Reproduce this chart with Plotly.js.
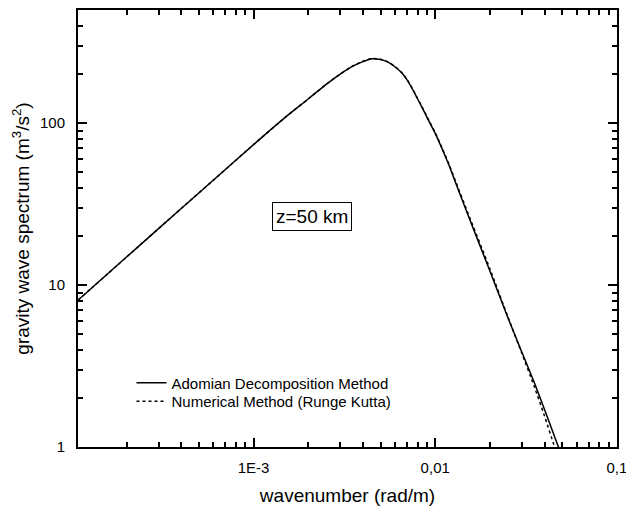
<!DOCTYPE html>
<html>
<head>
<meta charset="utf-8">
<script src="https://cdn.plot.ly/plotly-3.0.1.min.js"></script>
<style>html,body{margin:0;padding:0;background:#fff;}#chart{width:626px;height:514px;}</style>
</head>
<body>
<div id="chart"></div>
<script>
// wavenumber (rad/m) and spectrum (m^3/s^2)
const kAdomian = [1.08e-4, 2e-4, 4e-4, 7e-4, 1e-3, 1.5e-3, 2e-3, 2.5e-3, 3e-3, 3.5e-3, 4e-3, 4.5e-3, 5e-3, 5.5e-3, 6e-3, 6.5e-3, 7e-3, 7.5e-3, 8e-3, 8.5e-3, 9e-3, 0.01, 0.011, 0.012, 0.013, 0.015, 0.02, 0.025, 0.03, 0.035, 0.04, 0.045, 0.048, 0.05];
const eAdomian = [8.06, 14.9, 29.7, 51.7, 73.7, 109, 141, 173, 201, 224, 240, 250, 247, 238, 223, 206, 185, 162, 141, 124, 109, 86.5, 68, 53.8, 42.4, 27.9, 12.2, 6.38, 3.85, 2.52, 1.70, 1.19, 0.98, 0.88];
const kRK = [1.08e-4, 2e-4, 4e-4, 7e-4, 1e-3, 1.5e-3, 2e-3, 2.5e-3, 3e-3, 3.5e-3, 4e-3, 4.5e-3, 5e-3, 5.5e-3, 6e-3, 6.5e-3, 7e-3, 7.5e-3, 8e-3, 8.5e-3, 9e-3, 0.01, 0.011, 0.012, 0.013, 0.015, 0.02, 0.025, 0.03, 0.035, 0.04, 0.045, 0.05];
const eRK = [8.06, 14.9, 29.7, 51.7, 73.7, 109, 141, 173, 201, 225, 241, 251, 248, 239, 224, 207, 186, 163, 142, 125, 110, 87.3, 68.8, 54.6, 43.2, 28.6, 12.6, 6.45, 3.78, 2.38, 1.55, 1.03, 0.74];
const seriesNames = ["Adomian Decomposition Method", "Numerical Method (Runge Kutta)"];
const xTickVals = [0.001, 0.01, 0.1];
const xTickText = ["1E-3", "0,01", "0,1"];
const xMinorVals = [2e-4,3e-4,4e-4,5e-4,6e-4,7e-4,8e-4,9e-4,2e-3,3e-3,4e-3,5e-3,6e-3,7e-3,8e-3,9e-3,0.02,0.03,0.04,0.05,0.06,0.07,0.08,0.09];
const yTickVals = [1, 10, 100];
const yTickText = ["1", "10", "100"];
const yMinorVals = [2,3,4,5,6,7,8,9,20,30,40,50,60,70,80,90,200,300,400,500];

const FONT = "Liberation Sans, Arial, sans-serif";
const XR = [-3.966, -0.9995];
const YR = [0, Math.log10(500)];

const lineStyle = {color: "#000", width: 1.5, shape: "spline", smoothing: 0.6};
const traces = [
  {x: kAdomian, y: eAdomian, type: "scatter", mode: "lines", name: seriesNames[0], legend: "legend",
   line: Object.assign({}, lineStyle, {dash: "solid"})},
  {x: kRK, y: eRK, type: "scatter", mode: "lines", name: seriesNames[1], legend: "legend2",
   line: Object.assign({}, lineStyle, {dash: "dot"})}
];
// invisible copies so the overlaid tick-only axes (top/right, minor) get drawn
[["x2","y2"],["x3","y3"],["x4","y4"]].forEach(function(p){
  traces.push({x: kAdomian, y: eAdomian, type: "scatter", mode: "lines", xaxis: p[0], yaxis: p[1],
    showlegend: false, hoverinfo: "skip", opacity: 0, line: {width: 0}});
});

function tickAxis(range, vals, len, extra) {
  return Object.assign({
    type: "log", range: range, autorange: false, showgrid: false, zeroline: false,
    ticks: "inside", ticklen: len, tickwidth: 2, tickcolor: "#000",
    tickmode: "array", tickvals: vals, showline: false, showticklabels: false
  }, extra);
}

const layout = {
  width: 626, height: 514,
  margin: {l: 78, r: 9, t: 10, b: 67},
  paper_bgcolor: "#fff", plot_bgcolor: "#fff",
  font: {family: FONT, color: "#000"},
  xaxis: tickAxis(XR, xTickVals, 9, {
    showline: true, linecolor: "#000", linewidth: 2, mirror: true,
    showticklabels: true, ticktext: xTickText, ticklabeloverflow: "allow",
    tickfont: {family: FONT, size: 15, color: "#000"}, ticklabelstandoff: 6,
    title: {text: "wavenumber (rad/m)", font: {family: FONT, size: 19, color: "#000"}, standoff: 14}
  }),
  xaxis2: tickAxis(XR, xTickVals, 9, {overlaying: "x", side: "top", anchor: "y2"}),
  xaxis3: tickAxis(XR, xMinorVals, 5, {overlaying: "x", side: "bottom", anchor: "y3"}),
  xaxis4: tickAxis(XR, xMinorVals, 5, {overlaying: "x", side: "top", anchor: "y4"}),
  yaxis: tickAxis(YR, yTickVals, 9, {
    showline: true, linecolor: "#000", linewidth: 2, mirror: true,
    showticklabels: true, ticktext: yTickText, ticklabeloverflow: "allow",
    tickfont: {family: FONT, size: 15, color: "#000"}, ticklabelstandoff: 8,
    title: {text: "gravity wave spectrum (m<sup>3</sup>/s<sup>2</sup>)", font: {family: FONT, size: 19, color: "#000"}, standoff: 5}
  }),
  yaxis2: tickAxis(YR, yTickVals, 9, {overlaying: "y", side: "right", anchor: "x2"}),
  yaxis3: tickAxis(YR, yMinorVals, 5, {overlaying: "y", side: "left", anchor: "x3"}),
  yaxis4: tickAxis(YR, yMinorVals, 5, {overlaying: "y", side: "right", anchor: "x4"}),
  showlegend: true,
  legend: {x: (131.5 - 78) / 539, y: (447.3 - 383.3) / 437.3, xanchor: "left", yanchor: "middle",
    bgcolor: "rgba(0,0,0,0)", borderwidth: 0, font: {family: FONT, size: 15, color: "#000"}},
  legend2: {x: (131.5 - 78) / 539, y: (447.3 - 401.7) / 437.3, xanchor: "left", yanchor: "middle",
    bgcolor: "rgba(0,0,0,0)", borderwidth: 0, font: {family: FONT, size: 15, color: "#000"}},
  annotations: [{
    xref: "paper", yref: "paper", x: (312 - 78) / 539, y: (447.3 - 217) / 437.3,
    xanchor: "center", yanchor: "middle", showarrow: false,
    text: "z=50 km", font: {family: FONT, size: 19, color: "#000"},
    bordercolor: "#000", borderwidth: 1, borderpad: 3, bgcolor: "#fff"
  }]
};

Plotly.newPlot("chart", traces, layout, {displayModeBar: false, staticPlot: true});
</script>
</body>
</html>
